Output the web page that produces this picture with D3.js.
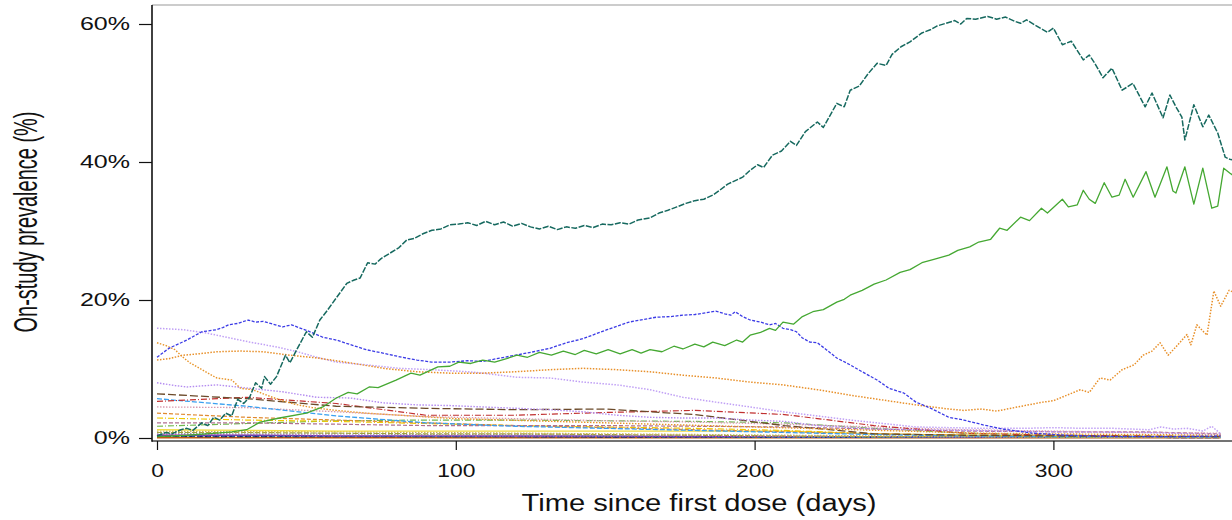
<!DOCTYPE html>
<html>
<head>
<meta charset="utf-8">
<script src="https://cdn.jsdelivr.net/npm/d3@7/dist/d3.min.js"></script>
<style>
  body { margin: 0; background: #fff; }
  text { font-family: "Liberation Sans", Arial, sans-serif; fill: #111; }
</style>
</head>
<body>
<svg id="chart" width="1232" height="520"></svg>
<script>
// ---- data ----
var xTicks = [0, 100, 200, 300];
var yTicks = [0, 20, 40, 60];
var xTitle = "Time since first dose (days)";
var yTitle = "On-study prevalence (%)";

// main curves: [day, prevalence %]
var tealPts = [[0,0.3],[3,0.8],[5,0.6],[8,1.2],[10,1.4],[12,1.1],[15,2.2],[17,1.8],[19,3.0],[21,2.6],[23,3.6],[25,3.2],
  [27,5.6],[29,5.0],[31,5.9],[33,8.0],[35,7.2],[36,8.9],[38,7.8],[40,8.9],[43,12.0],[44.5,10.9],[47,13.0],[50,15.4],
  [52,14.6],[54.5,17.1],[57,18.5],[60,20.3],[63.5,22.4],[66,22.9],[68,23.2],[70.5,25.4],[73,25.2],[75,26.0],[78,26.8],
  [81,27.6],[83.6,28.7],[86,28.9],[89,29.6],[92,30.1],[95,30.3],[98,30.9],[101,31.0],[104,31.2],[107,30.8],[110,31.4],
  [113,30.9],[116,31.3],[119,30.7],[122,31.1],[125,30.6],[128,30.3],[131,30.7],[134,30.2],[137,30.6],[140,30.4],
  [143,30.8],[146,30.5],[149,31.0],[152,30.9],[155,31.2],[158,31.0],[161,31.6],[165,31.9],[168,32.6],[171,33.0],
  [174,33.5],[177,34.0],[180,34.4],[183,34.6],[186,35.2],[188,35.8],[191,36.8],[193,37.2],[196,37.8],[198.5,38.8],
  [201,39.6],[203,39.2],[206,41.0],[209,41.6],[212,43.0],[214,42.4],[217,44.4],[221,45.8],[223,45.0],[227.5,48.5],
  [230,48.0],[232,50.4],[235,51.0],[238,52.8],[241,54.3],[244,54.0],[246,55.6],[249,56.7],[252,57.4],[256,58.7],
  [259,59.2],[261,59.7],[264,60.1],[267,60.5],[269,60.0],[271,60.8],[274,60.7],[278,61.1],[281,60.7],[284,61.0],
  [287,60.4],[289,60.1],[291,60.6],[294,59.8],[298,58.8],[300,59.4],[303,57.0],[306,57.5],[310,54.8],[312,55.5],
  [314,54.2],[316.6,52.2],[319.6,53.6],[323,50.4],[326.6,51.4],[330.7,48.0],[333,50.0],[336.7,46.4],[339,49.7],
  [341,48.0],[343,46.5],[344,43.2],[347,48.3],[350,45.1],[352,46.8],[355,44.2],[357.5,40.7],[359,40.4],[361,40.2]];

var greenPts = [[0,0.2],[10,0.4],[20,0.7],[25,0.9],[30,1.2],[34.5,2.3],[41,2.9],[50,3.6],[55.5,4.5],[60,5.8],[64,6.6],
  [67,6.4],[71,7.4],[74,7.3],[80,8.4],[85,9.4],[88,9.1],[94,10.3],[98,10.4],[101,11.0],[105,10.8],[109,11.3],[113,11.0],
  [117,11.5],[120.5,12.0],[124,11.7],[128,12.4],[132,12.0],[136,12.6],[140,12.1],[143,12.7],[147,12.2],[151,12.8],
  [155,12.2],[159,12.8],[162,12.3],[165,12.8],[169,12.5],[173,13.3],[176,12.9],[180,13.6],[183,13.2],[186,13.9],
  [190,13.4],[194,14.2],[196,13.9],[198.5,14.9],[202,15.3],[205,15.9],[207,15.6],[209.5,16.8],[213,16.5],[216,17.6],
  [219.5,18.3],[223,18.6],[227.5,19.7],[230,20.1],[232,20.7],[236,21.4],[240,22.3],[244,22.9],[248.7,24.0],[252,24.4],
  [256,25.4],[260,25.9],[265,26.5],[268,27.2],[272,27.7],[275,28.4],[279,28.8],[282,30.4],[284.5,30.1],[289,32.0],
  [292,31.5],[296,33.3],[298,32.6],[303,34.6],[305,33.5],[308,33.8],[310,35.9],[312,34.6],[314,34.0],[317,37.0],
  [319.6,34.9],[322,35.2],[324,37.5],[326.7,34.9],[331,38.6],[334,34.9],[338,39.3],[340,35.8],[341,35.5],[344,39.3],
  [347,33.9],[350,39.1],[353,33.3],[355,33.6],[357,39.1],[359,38.4],[361,37.8]];

var bluePts = [[0,11.7],[4,13.0],[10,14.2],[15,15.4],[20,15.7],[22,16.0],[24,16.4],[27,16.6],[30.5,17.1],[33,16.8],
  [35.5,16.9],[38,16.6],[42,16.1],[45,16.4],[50,15.6],[55.5,14.6],[60,14.2],[65,13.5],[70,12.8],[75.6,12.3],[82,11.7],
  [87,11.3],[92,11.0],[98,11.0],[104,11.2],[109,11.1],[115,11.6],[120,12.0],[126,12.5],[131.5,13.0],[137,13.8],
  [142.6,14.4],[150.6,15.7],[158,16.8],[163,17.2],[167,17.5],[172,17.6],[176,17.8],[180,17.9],[183,18.1],[187,18.4],
  [190,18.0],[192,17.8],[193.5,18.3],[196,17.6],[198.5,17.1],[202,16.8],[205,16.4],[207,16.6],[209.5,15.9],[212,15.7],
  [214,15.4],[216,14.5],[218.5,13.9],[221,13.8],[224,12.8],[227.5,11.6],[232,10.6],[236,9.6],[241,8.4],[245,7.2],
  [250,6.5],[254,5.2],[259,4.3],[265,3.0],[270,2.6],[276.5,1.9],[283,1.3],[293,0.7],[304.5,0.4],[321,0.2],[340,0.2],[356,0.3]];

var orangePts = [[0,11.3],[4,11.5],[8.7,12.0],[14,12.2],[20,12.5],[27.8,12.6],[35.5,12.5],[44.5,12.0],[53.5,11.6],
  [64.6,10.9],[75.6,10.1],[87,9.6],[98,9.4],[109,9.4],[120,9.6],[131.5,9.9],[142.6,10.1],[154,9.9],[165,9.6],[176,9.1],
  [187,8.7],[198.5,8.1],[209.5,7.7],[221,7.0],[232,6.2],[243,5.5],[254,4.8],[265,4.2],[270,4.0],[276,4.2],[281,3.9],
  [288,4.5],[296.5,5.2],[300,5.4],[304.5,6.2],[309,7.0],[312,6.6],[315.6,8.7],[319,8.4],[323,9.9],[327,10.6],[330,12.0],
  [333,12.6],[335.7,13.8],[338.4,12.0],[341,13.2],[344.7,15.0],[346,13.5],[348,16.4],[351.4,14.9],[353.7,21.3],
  [356,19.1],[358.8,21.4],[361,21.0]];

var orangeDropPts = [[0,13.8],[3,13.4],[6,12.8],[9,11.6],[11,10.9],[15,9.9],[20,8.7],[25,8.4],[28,7.2],[32,7.0],
  [35,6.5],[38,6.0],[42,5.4],[46,4.9],[52,4.4],[60,4.0],[70,3.6],[85,3.2],[100,2.8],[125,2.5],[150,2.2],[175,1.9],
  [200,1.6],[225,1.3],[250,1.0],[275,0.7],[300,0.6],[330,0.5],[356,0.4]];

var purplePts = [[0,15.9],[8.7,15.7],[16.7,15.2],[24.4,14.5],[31,13.9],[40,13.2],[47,12.5],[53.5,11.7],[60,11.0],
  [70,10.6],[81,10.1],[92,9.9],[104,9.6],[109,9.4],[120.5,8.8],[131.5,8.7],[142.6,8.1],[154,7.7],[165,7.0],[176,5.9],
  [187,5.2],[198.5,4.5],[209.5,3.8],[221,3.2],[232,2.6],[243,2.1],[254,1.6],[265,1.5],[276,1.4],[290,1.4],[300,1.5],
  [310,1.4],[320,1.4],[332,1.2],[336,1.6],[340,1.3],[345,1.4],[350,1.0],[353,1.7],[356,0.6]];

var purple2Pts = [[0,8.0],[6,7.6],[10,7.4],[20,7.7],[31,7.2],[42,6.7],[53.5,5.9],[64.6,5.8],[75.6,5.1],[87,4.8],
  [98,4.7],[109,4.5],[120.5,4.3],[131.5,4.1],[142.6,3.8],[154,3.3],[165,3.0],[176,2.9],[187,2.9],[198.5,2.6],[210,2.4],
  [221,1.8],[240,1.3],[270,1.1],[300,0.9],[330,0.8],[356,0.5]];

// minor curves share these days
var coarseDays = [0, 30, 60, 90, 120, 150, 180, 210, 240, 270, 300, 330, 356];
var brownVals   = [6.4, 5.7, 4.6, 4.3, 4.1, 4.2, 3.4, 1.8, 0.6, 0.4, 0.3, 0.2, 0.2];
var redVals     = [5.3, 5.9, 5.0, 3.3, 3.3, 3.7, 4.0, 3.4, 1.8, 0.7, 0.4, 0.3, 0.2];
var skyVals     = [5.7, 4.6, 3.2, 2.2, 1.7, 1.4, 1.1, 0.8, 0.5, 0.3, 0.2, 0.2, 0.1];
var pinkVals    = [4.5, 4.4, 3.8, 3.1, 2.8, 2.5, 2.3, 2.0, 1.6, 1.2, 1.0, 0.8, 0.7];
var mauveVals   = [2.2, 2.2, 2.0, 1.8, 1.8, 1.8, 1.7, 1.6, 1.3, 1.0, 0.9, 0.9, 0.6];
var amberVals   = [3.6, 3.0, 2.6, 2.2, 1.8, 1.5, 1.2, 0.9, 0.6, 0.4, 0.3, 0.2, 0.2];
var yellowDVals = [2.9, 2.6, 2.4, 2.1, 1.8, 1.6, 1.4, 1.1, 0.6, 0.4, 0.3, 0.2, 0.2];
var limeVals    = [1.7, 2.1, 2.5, 2.6, 2.6, 2.5, 2.4, 2.2, 1.4, 0.7, 0.4, 0.3, 0.2];
var yellowVals  = [1.2, 1.1, 1.0, 1.0, 1.0, 1.0, 1.0, 1.0, 0.6, 0.4, 0.3, 0.2, 0.2];
var tanVals     = [1.0, 0.9, 0.9, 0.8, 0.7, 0.6, 0.5, 0.4, 0.3, 0.2, 0.2, 0.1, 0.1];
var oliveVals   = [0.8, 0.8, 0.7, 0.6, 0.6, 0.5, 0.4, 0.3, 0.2, 0.2, 0.1, 0.1, 0.1];
var grayVals    = [0.7, 0.6, 0.6, 0.5, 0.5, 0.4, 0.4, 0.3, 0.2, 0.2, 0.1, 0.1, 0.1];
var magentaVals = [0.5, 0.5, 0.4, 0.4, 0.3, 0.3, 0.3, 0.2, 0.2, 0.2, 0.1, 0.1, 0.1];
var violetVals  = [0.4, 0.4, 0.3, 0.3, 0.3, 0.3, 0.2, 0.2, 0.2, 0.1, 0.1, 0.1, 0.1];
var navyVals    = [0.25, 0.2, 0.2, 0.2, 0.2, 0.15, 0.15, 0.1, 0.1, 0.1, 0.1, 0.1, 0.05];
var cyanVals    = [0.3, 0.3, 0.25, 0.2, 0.2, 0.2, 0.15, 0.1, 0.1, 0.1, 0.1, 0.1, 0.1];
var rustVals    = [0.05, 0.05, 0.05, 0.05, 0.05, 0.05, 0.05, 0.05, 0.05, 0.05, 0.05, 0.05, 0.05];

// ---- drawing ----
var svg = d3.select("#chart");
var frame = { left: 152, top: 5, right: 1232, bottom: 441 };

var x = d3.scaleLinear().domain([0, 300]).range([157, 1053.4]);
var y = d3.scaleLinear().domain([0, 60]).range([438, 24]);

svg.append("clipPath").attr("id", "plotclip")
  .append("rect")
  .attr("x", frame.left).attr("y", frame.top)
  .attr("width", frame.right - frame.left).attr("height", frame.bottom - frame.top);

var line = d3.line()
  .x(function(d){ return x(d[0]); })
  .y(function(d){ return y(d[1]); });

// series: points, colour, dash, width (drawn in this order)
var series = [
  { pts: d3.zip(coarseDays, rustVals),    color: "#c05a10", dash: null,      w: 1.6 },
  { pts: d3.zip(coarseDays, navyVals),    color: "#202070", dash: "6,2",     w: 1.4 },
  { pts: d3.zip(coarseDays, cyanVals),    color: "#2090a0", dash: "3,2",     w: 1.2 },
  { pts: d3.zip(coarseDays, violetVals),  color: "#6040b0", dash: null,      w: 1.4 },
  { pts: d3.zip(coarseDays, magentaVals), color: "#c050c0", dash: "1.5,1.5", w: 1.2 },
  { pts: d3.zip(coarseDays, grayVals),    color: "#9a9a9a", dash: "1.5,1.5", w: 1.2 },
  { pts: d3.zip(coarseDays, oliveVals),   color: "#a0a040", dash: "5,2",     w: 1.2 },
  { pts: d3.zip(coarseDays, tanVals),     color: "#c8b060", dash: "1.5,1.5", w: 1.4 },
  { pts: d3.zip(coarseDays, yellowVals),  color: "#f0dc40", dash: null,      w: 1.4 },
  { pts: d3.zip(coarseDays, limeVals),    color: "#70b850", dash: "6,2,1,2", w: 1.2 },
  { pts: d3.zip(coarseDays, yellowDVals), color: "#f0c800", dash: "6,2,1,2", w: 1.2 },
  { pts: d3.zip(coarseDays, amberVals),   color: "#e08a30", dash: "4,2",     w: 1.2 },
  { pts: d3.zip(coarseDays, mauveVals),   color: "#b07090", dash: "4,2",     w: 1.2 },
  { pts: d3.zip(coarseDays, pinkVals),    color: "#d89ab0", dash: "1.5,1.5", w: 1.3 },
  { pts: d3.zip(coarseDays, skyVals),     color: "#3aa0f0", dash: "5,2",     w: 1.3 },
  { pts: d3.zip(coarseDays, redVals),     color: "#c03030", dash: "6,2,1,2", w: 1.2 },
  { pts: d3.zip(coarseDays, brownVals),   color: "#6b4a2a", dash: "8,3",     w: 1.3 },
  { pts: purple2Pts,    color: "#b48cf0", dash: "1.5,1.5", w: 1.4 },
  { pts: orangeDropPts, color: "#e8952a", dash: "1.5,1.5", w: 1.4 },
  { pts: purplePts,     color: "#c0a0f5", dash: "1.5,1.5", w: 1.5 },
  { pts: orangePts,     color: "#e8902a", dash: "1.5,1.5", w: 1.5 },
  { pts: bluePts,       color: "#3c3ce6", dash: "3,1.5",   w: 1.3 },
  { pts: greenPts,      color: "#45a832", dash: null,      w: 1.3 },
  { pts: tealPts,       color: "#16695f", dash: "6,1.5",   w: 1.5 }
];

var plot = svg.append("g").attr("clip-path", "url(#plotclip)");
plot.selectAll("path.series")
  .data(series)
  .enter().append("path")
  .attr("class", "series")
  .attr("d", function(d){ return line(d.pts); })
  .attr("fill", "none")
  .attr("stroke", function(d){ return d.color; })
  .attr("stroke-width", function(d){ return d.w; })
  .attr("stroke-dasharray", function(d){ return d.dash; })
  .attr("stroke-linejoin", "round");

// frame: grey top, black left and bottom
svg.append("line").attr("x1", frame.left).attr("x2", frame.right)
  .attr("y1", frame.top).attr("y2", frame.top).attr("stroke", "#999").attr("stroke-width", 1.2);
svg.append("line").attr("x1", frame.left).attr("x2", frame.right)
  .attr("y1", frame.bottom).attr("y2", frame.bottom).attr("stroke", "#444").attr("stroke-width", 1.5);
svg.append("line").attr("x1", frame.left).attr("x2", frame.left)
  .attr("y1", frame.top).attr("y2", frame.bottom + 0.7).attr("stroke", "#111").attr("stroke-width", 1.6);

// stretch text horizontally like the source
function stretch(sel, k) {
  sel.each(function() {
    var t = d3.select(this);
    t.attr("textLength", this.getComputedTextLength() * k).attr("lengthAdjust", "spacingAndGlyphs");
  });
}

var yAxis = svg.append("g")
  .attr("transform", "translate(" + frame.left + ",0)")
  .call(d3.axisLeft(y).tickValues(yTicks).tickFormat(function(d){ return d + "%"; })
    .tickSize(13).tickPadding(9));
yAxis.select(".domain").remove();
yAxis.selectAll(".tick line").attr("stroke", "#111").attr("stroke-width", 1.2);
yAxis.selectAll(".tick text").attr("font-size", 18).attr("font-family", null).style("fill", "#111");
stretch(yAxis.selectAll(".tick text"), 1.39);

var xAxis = svg.append("g")
  .attr("transform", "translate(0," + frame.bottom + ")")
  .call(d3.axisBottom(x).tickValues(xTicks).tickSize(9).tickPadding(14));
xAxis.select(".domain").remove();
xAxis.selectAll(".tick line").attr("stroke", "#111").attr("stroke-width", 1.2);
xAxis.selectAll(".tick text").attr("font-size", 18).attr("font-family", null).style("fill", "#111");
stretch(xAxis.selectAll(".tick text"), 1.27);

// axis titles
svg.append("text")
  .attr("x", 699).attr("y", 511)
  .attr("text-anchor", "middle")
  .attr("font-size", 23)
  .attr("textLength", 355).attr("lengthAdjust", "spacingAndGlyphs")
  .text(xTitle);

svg.append("text")
  .attr("transform", "translate(37,222) scale(1.3,1) rotate(-90)")
  .attr("text-anchor", "middle")
  .attr("font-size", 25)
  .attr("textLength", 221).attr("lengthAdjust", "spacingAndGlyphs")
  .text(yTitle);
</script>
</body>
</html>
